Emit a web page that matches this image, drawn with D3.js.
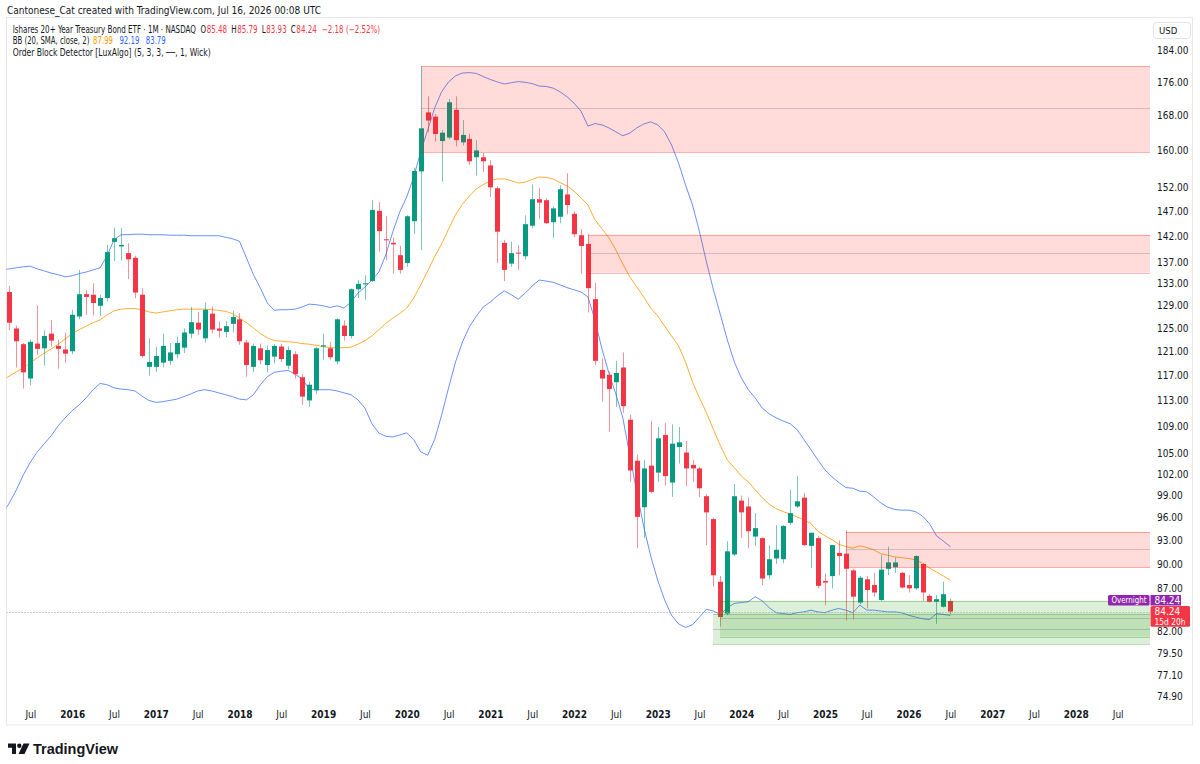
<!DOCTYPE html>
<html><head><meta charset="utf-8">
<script src="https://cdn.jsdelivr.net/npm/d3@7"></script>
<style>
body{margin:0;background:#fff;}
svg{display:block;}
text{font-family:"Liberation Sans Narrow","DejaVu Sans Condensed","Liberation Sans",sans-serif;}
</style></head><body>
<svg id="chart" width="1200" height="764"></svg>
<script>
// ---- data (monthly, Mar 2015 .. Jul 2026) ----
const startYear = 2015, startMonth = 3; // first bar = Mar 2015
const open = [
 130.0,131.4,124.9,122.2,116.5,122.3,121.5,124.0,121.9,121.3,
 121.0,127.0,131.0,130.9,128.9,130.3,140.9,140.0,138.7,137.8,130.9,118.4,
 118.4,119.1,119.4,120.5,121.6,124.0,125.9,123.2,127.5,124.9,124.3,125.7,
 126.5,122.5,118.4,121.5,118.7,120.1,121.8,118.6,120.5,116.7,113.0,114.6,
 121.8,121.5,119.3,125.4,123.6,131.9,132.8,133.4,147.1,141.4,140.7,138.3,
 136.8,145.0,155.4,168.7,167.7,162.1,162.9,169.3,161.8,162.6,158.5,158.5,
 156.7,151.8,140.7,136.7,138.8,138.1,144.1,149.5,149.3,144.8,145.9,150.5,
 146.5,142.2,140.5,130.1,117.9,117.1,115.9,118.3,110.0,103.9,97.4,103.2,
 102.2,107.7,100.8,105.9,105.1,103.3,102.8,98.9,95.8,87.8,84.0,91.2,
 98.3,97.5,93.5,93.3,88.6,90.7,90.6,95.3,97.5,98.7,92.3,93.3,
 87.9,88.5,91.4,91.3,89.2,85.3,88.1,87.4,85.6,89.4,89.6,88.9,
 87.4,87.0,90.0,86.1,85.4,84.8,85.48];
const high = [
 133.0,132.5,125.4,122.4,123.0,129.0,124.6,126.4,123.0,124.2,
 128.2,135.5,131.8,133.0,130.9,140.3,143.7,143.6,140.6,138.2,132.1,123.2,
 121.8,124.0,122.4,123.5,124.9,128.7,127.8,129.5,128.8,126.1,126.2,128.0,
 127.6,123.0,122.3,122.3,122.0,122.2,122.3,121.8,121.0,117.2,116.0,121.7,
 124.0,122.6,126.7,126.3,132.0,133.6,134.5,149.3,148.9,146.0,141.7,140.1,
 146.2,156.2,179.9,172.5,168.3,164.6,171.9,172.5,166.9,163.8,162.3,159.4,
 157.8,152.2,141.3,140.9,140.3,146.2,152.6,151.8,149.7,148.0,152.4,155.0,
 147.0,143.4,142.4,133.1,119.8,117.6,119.4,120.8,110.8,104.8,104.0,109.8,
 108.9,109.5,109.3,108.9,106.8,104.0,103.0,99.2,96.0,88.5,92.9,100.6,
 99.0,98.7,96.6,93.4,92.4,95.0,95.0,99.8,101.7,99.3,94.0,93.6,
 88.8,92.4,93.0,94.3,89.4,88.5,88.5,88.9,91.1,92.2,90.8,89.0,
 88.6,91.1,90.1,86.3,86.2,87.8,85.79];
const low = [
 125.9,124.6,118.3,114.9,115.4,120.4,118.6,121.8,118.1,119.1,
 120.5,126.5,127.3,127.2,127.1,129.7,137.2,137.3,133.8,130.3,119.9,117.0,
 117.6,118.3,118.7,119.8,120.7,123.2,123.8,122.5,124.0,123.3,123.4,124.2,
 122.1,116.8,117.6,118.8,117.5,119.0,119.2,118.0,116.5,112.3,112.0,114.0,
 119.6,119.6,118.8,122.8,123.2,130.3,130.0,133.3,139.0,137.4,134.8,134.8,
 136.1,142.5,139.3,164.1,162.0,153.2,162.5,160.9,161.1,156.8,154.5,155.3,
 150.0,136.8,133.4,136.1,135.5,137.5,143.6,145.5,144.4,141.7,144.6,146.4,
 141.8,134.8,127.7,118.7,112.8,108.2,112.0,111.1,100.9,92.0,93.3,99.3,
 100.9,100.4,98.8,103.5,100.3,100.9,98.8,92.4,87.2,82.5,83.8,91.0,
 93.3,92.0,92.3,87.4,88.1,90.0,90.1,95.0,97.3,92.3,89.5,87.0,
 85.0,87.0,88.6,83.2,83.3,85.1,84.6,86.0,85.5,88.6,88.9,87.0,
 86.5,86.8,85.5,85.3,82.8,84.7,83.93];
const close = [
 131.4,125.9,122.7,117.5,122.6,121.4,123.6,122.8,121.4,120.6,
 127.3,131.0,130.5,129.4,130.3,138.9,141.6,140.3,137.5,131.3,120.2,119.2,
 120.2,121.9,120.8,122.4,124.2,126.0,124.7,128.2,124.7,124.5,125.3,126.9,
 122.7,118.7,121.9,119.5,121.2,121.9,119.7,121.2,117.2,113.6,115.5,121.5,
 122.0,120.0,126.5,123.6,131.9,132.9,133.0,147.3,143.0,141.2,140.4,135.5,
 146.0,155.5,165.0,166.8,163.7,164.0,171.1,162.3,163.5,157.6,160.0,157.6,
 152.0,142.9,135.5,138.7,138.6,144.4,149.5,148.8,144.6,147.6,151.6,148.3,
 142.4,140.1,132.1,119.4,116.5,114.8,117.4,112.1,102.5,96.1,102.8,99.5,
 107.2,101.7,106.4,106.6,102.8,102.8,100.0,96.7,88.6,83.6,91.6,98.9,
 96.7,94.2,94.6,88.2,90.6,91.8,94.9,96.6,98.2,92.4,94.0,87.3,
 87.7,92.4,91.0,89.4,86.0,88.3,86.8,86.5,89.3,90.2,90.2,87.1,
 87.0,91.0,86.5,85.4,85.7,86.3,84.24];
// Bollinger Bands (20, SMA, close, 2)
const bbUpper = [
 135.5,135.7,135.9,136.1,136.2,135.7,135.3,134.9,134.6,134.2,
 134.4,134.8,135.1,135.5,135.9,138.2,141.3,142.3,142.3,142.4,142.4,142.3,
 142.3,142.3,142.2,142.2,142.2,142.1,142.1,142.1,142.1,142.1,141.8,141.5,
 141.0,137.8,134.6,132.1,129.4,128.1,128.2,128.2,128.3,128.7,129.2,129.1,
 128.9,128.6,128.9,128.5,129.6,131.2,132.3,133.6,135.1,138.4,142.9,146.9,
 150.0,154.2,159.7,164.6,169.7,173.6,176.0,177.5,178.2,178.3,178.1,177.3,
 176.6,176.0,175.5,175.8,176.1,175.9,175.6,175.0,174.9,174.5,173.6,172.4,
 170.9,169.0,165.5,166.1,165.8,165.1,164.2,163.3,163.9,165.1,166.0,166.5,
 165.8,164.2,161.2,157.2,152.5,148.3,142.9,137.0,131.8,127.3,122.9,119.2,
 116.6,114.7,113.4,111.8,110.9,110.3,109.8,109.4,108.5,107.0,105.5,104.0,
 102.6,101.6,100.8,100.1,100.0,99.6,99.5,98.8,98.0,97.4,97.1,97.0,
 97.0,96.8,96.2,95.2,93.6,92.9,92.19];
const bbBasis = [
 116.3,116.9,117.6,118.2,119.1,119.9,120.7,121.4,122.2,123.1,
 124.0,124.7,125.3,125.9,126.4,127.3,128.0,128.3,128.4,128.4,128.2,127.8,
 127.6,127.8,128.0,128.2,128.3,128.3,128.3,128.3,128.2,128.1,127.9,127.5,
 126.7,125.9,125.0,124.0,123.3,122.8,122.7,122.6,122.5,122.3,122.2,122.0,
 121.8,121.6,121.6,121.6,121.7,122.2,122.8,123.6,124.7,125.8,126.7,127.5,
 128.5,130.3,132.7,135.3,138.0,140.5,143.4,146.3,148.5,150.2,151.7,152.6,
 153.4,153.8,153.8,153.4,152.9,153.1,153.7,154.2,154.1,153.8,153.0,152.3,
 151.2,149.8,148.3,145.3,143.5,141.7,139.3,136.6,134.2,132.3,130.5,128.5,
 127.1,125.3,123.6,121.9,119.2,115.9,113.4,111.1,108.5,106.1,104.0,102.9,
 101.7,100.9,99.8,98.7,97.8,97.2,96.8,96.5,96.1,95.7,95.2,94.2,
 93.6,93.1,92.5,92.2,92.0,92.3,92.1,91.8,91.3,91.1,90.9,90.8,
 90.7,90.5,90.1,89.5,89.0,88.5,87.99];
const bbLower = [
 96.5,98.0,99.8,101.9,103.7,105.2,106.4,107.6,109.1,110.3,
 111.4,112.3,113.4,114.7,115.7,115.5,115.0,114.8,114.7,114.5,113.7,113.0,
 112.7,112.8,113.0,113.2,113.6,114.0,114.5,114.7,114.5,114.2,113.9,113.6,
 113.2,113.1,113.9,115.5,116.8,117.5,117.7,117.8,117.2,116.4,114.8,114.7,
 114.7,114.7,114.5,114.2,113.9,113.1,111.8,109.4,108.0,107.5,107.4,107.7,
 108.0,107.0,105.2,104.7,107.0,110.7,115.0,119.2,122.6,125.2,127.1,128.7,
 129.6,130.7,131.6,130.9,130.1,131.2,132.5,133.6,133.4,133.2,132.7,132.2,
 131.8,131.4,130.5,126.4,121.4,117.4,114.0,110.3,104.7,99.5,94.8,91.0,
 88.0,85.6,83.8,82.8,82.4,82.7,83.6,84.5,84.3,83.9,84.7,85.2,
 85.3,85.4,86.0,85.5,84.7,84.1,84.0,83.9,84.1,84.2,84.4,84.2,
 84.1,84.4,84.6,84.4,84.1,85.0,84.4,84.4,84.3,84.2,84.2,84.1,
 83.8,83.6,83.4,83.3,84.0,83.9,83.79];
// Order blocks (LuxAlgo)
const obStart  = ["2020-03","2022-03","2025-04","2023-09","2023-10"];
const obTop    = [179.9,142.3,94.1,84.0,85.53];
const obBottom = [159.6,135.0,89.57,80.5,81.35];
const obType   = ["bear","bear","bear","bull","bull"];
// axis ticks
const priceTicks = [184,176,168,160,152,147,142,137,133,129,125,121,117,113,109,105,102,99,96,93,90,87,82,79.5,77.1,74.9];
const lastPrice = 84.24;

// ---- build ----
const n = close.length;
const relIdx = j => j + (startYear-2016)*12 + (startMonth-1); // months from Jan 2016
const bars = d3.range(n).map(j => ({k:relIdx(j), o:open[j], h:high[j], l:low[j], c:close[j], up:bbUpper[j], mid:bbBasis[j], lo:bbLower[j]}));
const keyToIdx = k => { const [yy,mm]=k.split("-").map(Number); return (yy-2016)*12+(mm-1); };

const svg = d3.select("#chart");
const P = {l:6.5, r:1150, t:17.5, b:703};
const x = d3.scaleLinear().domain([0,126]).range([72.2,950.4]);
const y = d3.scaleLog().domain([74.9,184]).range([696,50]);
const GREEN="#089981", RED="#f23645", TXT="#131722";
const FONT='"Liberation Sans Narrow","DejaVu Sans Condensed",sans-serif';

svg.append("rect").attr("width",1200).attr("height",764).attr("fill","#fff");
svg.append("defs").append("clipPath").attr("id","clip").append("rect")
  .attr("x",P.l).attr("y",P.t).attr("width",P.r-P.l).attr("height",P.b-P.t);
svg.append("rect").attr("x",6.5).attr("y",17.5).attr("width",1186).attr("height",707.5)
  .attr("fill","none").attr("stroke","#e6e8ee");

const g = svg.append("g").attr("clip-path","url(#clip)");

// Bollinger lines
const line = acc => d3.line().x(d=>x(d.k)).y(d=>y(acc(d)));
g.append("path").datum(bars).attr("d",line(d=>d.mid)).attr("fill","none").attr("stroke","#ff9800").attr("stroke-width",1).attr("opacity",0.8);
g.append("path").datum(bars).attr("d",line(d=>d.up)).attr("fill","none").attr("stroke","#2962ff").attr("stroke-width",1).attr("opacity",0.7);
g.append("path").datum(bars).attr("d",line(d=>d.lo)).attr("fill","none").attr("stroke","#2962ff").attr("stroke-width",1).attr("opacity",0.7);

// candles
const bw = 5;
const cg = g.append("g");
cg.selectAll("line.wick").data(bars).join("line").attr("class","wick")
  .attr("x1",d=>Math.round(x(d.k))+0.5).attr("x2",d=>Math.round(x(d.k))+0.5)
  .attr("y1",d=>y(d.h)).attr("y2",d=>y(d.l))
  .attr("stroke",d=>d.c>=d.o?GREEN:RED).attr("stroke-width",1).attr("opacity",0.55);
cg.selectAll("rect.body").data(bars).join("rect").attr("class","body")
  .attr("x",d=>Math.round(x(d.k))+0.5-bw/2).attr("width",bw)
  .attr("y",d=>y(Math.max(d.o,d.c))).attr("height",d=>Math.max(1,Math.abs(y(d.o)-y(d.c))))
  .attr("fill",d=>d.c>=d.o?GREEN:RED);

// order blocks
const obs = obStart.map((s,i)=>({s:keyToIdx(s), top:obTop[i], bot:obBottom[i], type:obType[i]}));
const og = g.append("g");
obs.forEach(o=>{
  const col = o.type==="bull" ? "#169400" : "#ff1100";
  const x0 = Math.round(x(o.s)), x1 = P.r;
  og.append("rect").attr("x",x0).attr("width",x1-x0).attr("y",y(o.top)).attr("height",y(o.bot)-y(o.top))
    .attr("fill",col).attr("fill-opacity",0.15);
  [o.top,o.bot].forEach(v=>og.append("line").attr("x1",x0).attr("x2",x1).attr("y1",Math.round(y(v))+0.5).attr("y2",Math.round(y(v))+0.5)
    .attr("stroke",col).attr("stroke-opacity",0.3));
  const avg=(o.top+o.bot)/2;
  og.append("line").attr("x1",x0).attr("x2",x1).attr("y1",Math.round(y(avg))+0.5).attr("y2",Math.round(y(avg))+0.5)
    .attr("stroke","#787b86").attr("stroke-opacity",0.35);
});
// current price line
g.append("line").attr("x1",P.l).attr("x2",P.r).attr("y1",Math.round(y(lastPrice))+0.5).attr("y2",Math.round(y(lastPrice))+0.5)
  .attr("stroke","#9598a1").attr("stroke-dasharray","1,2");

// right price axis
const ya = svg.append("g").attr("transform",`translate(${P.r},0)`)
  .call(d3.axisRight(y).tickValues(priceTicks).tickFormat(d=>d.toFixed(2)).tickSize(0).tickPadding(7));
ya.select(".domain").remove();
ya.selectAll("text").attr("fill",TXT).attr("font-size",10).style("font-family",FONT);

// USD box
svg.append("rect").attr("x",1153.5).attr("y",22.5).attr("width",37).attr("height",16).attr("rx",3).attr("fill","#fff").attr("stroke","#e0e3eb");
svg.append("text").attr("x",1159).attr("y",30.5).attr("dy","0.35em").attr("font-size",9.5).attr("fill",TXT).text("USD");

// bottom time axis
const tv = d3.range(-6,151,6);
const xa = svg.append("g").attr("transform",`translate(0,${P.b})`)
  .call(d3.axisBottom(x).tickValues(tv).tickFormat(d=> d%12===0 ? String(2016+d/12) : "Jul").tickSize(0).tickPadding(8));
xa.select(".domain").remove();
xa.selectAll("text").attr("fill",TXT).attr("font-size",10)
  .attr("font-weight",d=>d%12===0?"bold":"normal").style("font-family",FONT);

// price labels on the right
const yl = y(lastPrice);
svg.append("rect").attr("x",1108).attr("y",595).attr("width",41.5).attr("height",10.5).attr("rx",1.5).attr("fill","#9226ac");
svg.append("text").attr("x",1111.5).attr("y",600.3).attr("dy","0.35em").attr("font-size",9).attr("fill","#fff")
  .attr("textLength",35).attr("lengthAdjust","spacingAndGlyphs").text("Overnight");
svg.append("rect").attr("x",1150.5).attr("y",595).attr("width",30.5).attr("height",10.5).attr("fill","#9226ac");
svg.append("text").attr("x",1154.5).attr("y",600.3).attr("dy","0.35em").attr("font-size",10).attr("fill","#fff").text(lastPrice.toFixed(2));
svg.append("rect").attr("x",1150.5).attr("y",yl-5.6).attr("width",39.5).attr("height",20.8).attr("rx",1.5).attr("fill",RED);
svg.append("text").attr("x",1154.5).attr("y",yl).attr("dy","0.35em").attr("font-size",10).attr("fill","#fff").text(lastPrice.toFixed(2));
svg.append("text").attr("x",1154.5).attr("y",yl+10).attr("dy","0.35em").attr("font-size",9.5).attr("fill","#fff")
  .attr("textLength",31).attr("lengthAdjust","spacingAndGlyphs").text("15d 20h");

// header & legend: segments laid out by measured width, then the row is condensed to the reference width
svg.append("text").attr("x",7).attr("y",10.7).attr("dy","0.35em").attr("font-size",10).attr("fill",TXT)
  .text("Cantonese_Cat created with TradingView.com, Jul 16, 2026 00:08 UTC");
function legendRow(yy, segs, target){
  const rg = svg.append("g");
  let cx = 0;
  segs.forEach((s,i)=>{
    cx += (s.gap||0);
    const t = rg.append("text").attr("x",cx).attr("y",yy).attr("dy","0.35em").attr("font-size",9.6).attr("fill",s.col||TXT).text(s.t);
    cx += t.node().getComputedTextLength();
  });
  rg.attr("transform",`translate(12.7,0) scale(${target/cx},1)`);
}
legendRow(29.3, [
  {t:"Ishares 20+ Year Treasury Bond ETF · 1M · NASDAQ"},
  {t:"O",gap:5.5},{t:open[n-1].toFixed(2),col:RED,gap:0.6},
  {t:"H",gap:5},{t:high[n-1].toFixed(2),col:RED,gap:0.6},
  {t:"L",gap:5},{t:low[n-1].toFixed(2),col:RED,gap:0.6},
  {t:"C",gap:5},{t:close[n-1].toFixed(2),col:RED,gap:0.6},
  {t:"−2.18 (−2.52%)",col:RED,gap:6}], 367.5);
legendRow(40.7, [
  {t:"BB (20, SMA, close, 2)"},
  {t:bbBasis[n-1].toFixed(2),col:"#ff9800",gap:4.5},
  {t:bbUpper[n-1].toFixed(2),col:"#2962ff",gap:8},
  {t:bbLower[n-1].toFixed(2),col:"#2962ff",gap:8}], 153);
legendRow(52.3, [{t:"Order Block Detector [LuxAlgo] (5, 3, 3, ──, 1, Wick)"}], 198);

// TradingView logo
const lg = svg.append("g").attr("transform","translate(8,743.5)").attr("fill","#131722");
lg.append("path").attr("d","M0,0H8V10.5H4V4.3H0Z");
lg.append("circle").attr("cx",11.3).attr("cy",2.2).attr("r",2.2);
lg.append("path").attr("d","M15.5,0H21.5L16.5,10.5H10.5Z");
svg.append("text").attr("x",33).attr("y",754).attr("font-size",15).attr("font-weight","bold").attr("fill","#131722")
  .attr("textLength",85).attr("lengthAdjust","spacingAndGlyphs")
  .style("font-family",'"Liberation Sans","DejaVu Sans",sans-serif').text("TradingView");
</script>
</body></html>
